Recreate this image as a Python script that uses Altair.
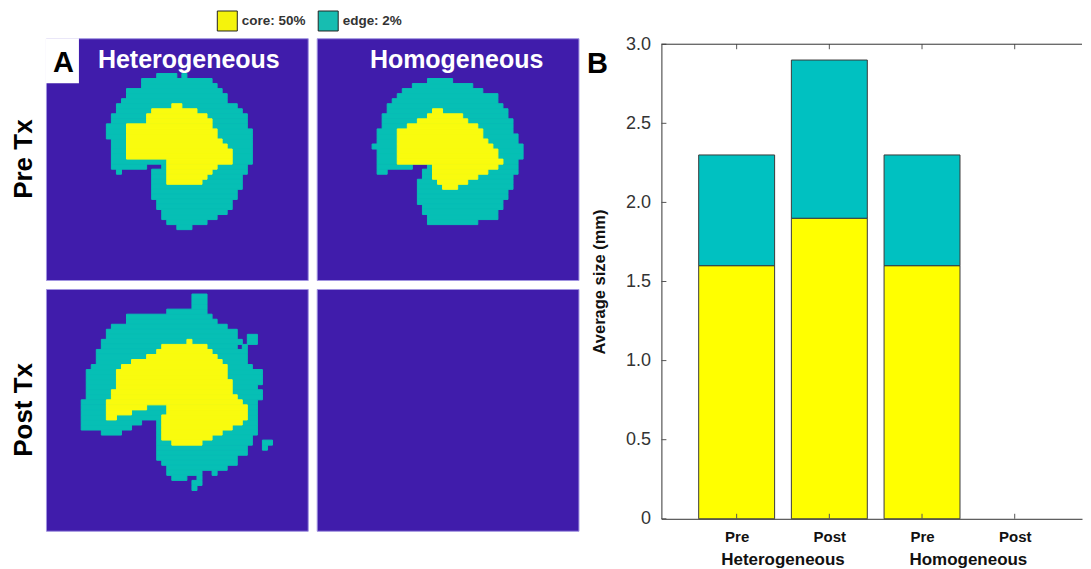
import json
import altair as alt
import pandas as pd

# ---------------- Panel B : stacked bars ----------------
groups = ["Heterogeneous", "Heterogeneous", "Homogeneous", "Homogeneous"]
conditions = ["Pre", "Post", "Pre", "Post"]
positions = [1, 2, 3, 4]
core_size = [1.6, 1.9, 1.6, 0.0]
edge_size = [0.7, 1.0, 0.7, 0.0]
y_ticks = [0, 0.5, 1.0, 1.5, 2.0, 2.5, 3.0]

legend_labels = ["core: 50%", "edge: 2%"]
regions = ["core", "edge"]

# ---------------- Panel A : segmented tumour maps ----------------
# runs of cells on a 52 x 48 grid: (row, first column, end column)
pre_het_edge = [
    (7, 22, 26), (7, 27, 28), (8, 19, 33), (9, 19, 34), (10, 16, 35), (11, 16, 36),
    (12, 15, 36), (13, 14, 38), (14, 14, 39), (15, 13, 40), (16, 13, 40), (17, 12, 40),
    (18, 12, 41), (19, 12, 41), (20, 13, 41), (21, 13, 41), (22, 13, 41), (23, 13, 41),
    (24, 13, 41), (25, 13, 20), (25, 23, 40), (26, 14, 15), (26, 21, 40), (27, 21, 39),
    (28, 21, 39), (29, 21, 39), (30, 21, 38), (31, 21, 38), (32, 22, 37), (33, 22, 37),
    (34, 23, 36), (35, 23, 34), (36, 24, 32), (37, 26, 29),
]
pre_het_core = [
    (13, 25, 27), (14, 21, 30), (15, 20, 32), (16, 20, 33), (17, 16, 33), (18, 16, 34),
    (19, 16, 34), (20, 16, 35), (21, 16, 36), (22, 16, 37), (23, 16, 37), (24, 24, 37),
    (25, 24, 34), (26, 24, 33), (27, 24, 32), (28, 24, 31),
]
pre_hom_edge = [
    (8, 22, 27), (9, 19, 31), (10, 17, 33), (11, 16, 36), (12, 15, 36), (13, 14, 37),
    (14, 14, 38), (15, 13, 38), (16, 13, 39), (17, 13, 39), (18, 12, 39), (19, 12, 40),
    (20, 12, 40), (21, 11, 41), (22, 12, 41), (23, 12, 41), (24, 12, 40), (25, 12, 19),
    (25, 22, 40), (26, 12, 14), (26, 21, 40), (27, 21, 39), (28, 20, 39), (29, 20, 39),
    (30, 20, 38), (31, 20, 38), (32, 20, 37), (33, 21, 37), (34, 21, 36), (35, 22, 36),
    (36, 22, 32),
]
pre_hom_core = [
    (14, 23, 25), (15, 22, 29), (16, 20, 30), (17, 18, 32), (18, 16, 33), (19, 16, 33),
    (20, 16, 34), (21, 16, 35), (22, 16, 36), (23, 16, 36), (24, 16, 37), (25, 23, 36),
    (26, 23, 34), (27, 23, 32), (28, 24, 30), (29, 25, 28),
]
post_het_edge = [
    (1, 29, 32), (2, 29, 32), (3, 29, 32), (4, 24, 32), (5, 16, 33), (6, 16, 34),
    (7, 13, 36), (8, 12, 38), (9, 12, 38), (9, 40, 42), (10, 11, 39), (10, 40, 42),
    (11, 11, 38), (11, 39, 40), (12, 10, 40), (13, 10, 40), (14, 10, 40), (15, 9, 41),
    (16, 8, 43), (17, 8, 43), (18, 8, 43), (19, 8, 42), (20, 8, 43), (21, 8, 43),
    (22, 7, 42), (23, 7, 42), (24, 7, 42), (25, 7, 42), (26, 7, 19), (26, 22, 42),
    (27, 7, 17), (27, 22, 42), (28, 11, 15), (28, 22, 42), (29, 22, 41), (30, 22, 41),
    (30, 43, 45), (31, 22, 40), (31, 43, 44), (32, 22, 40), (33, 22, 38), (34, 23, 38),
    (35, 24, 36), (36, 24, 31), (36, 33, 34), (37, 25, 28), (37, 30, 31), (38, 29, 31),
    (39, 29, 30),
]
post_het_core = [
    (10, 28, 29), (11, 23, 32), (12, 22, 33), (13, 20, 34), (14, 17, 35), (15, 15, 36),
    (16, 14, 36), (17, 14, 36), (18, 14, 37), (19, 14, 37), (20, 13, 37), (21, 13, 38),
    (22, 12, 39), (23, 12, 20), (23, 24, 40), (24, 12, 17), (24, 24, 40), (25, 12, 14),
    (25, 23, 40), (26, 23, 39), (27, 23, 37), (28, 23, 35), (29, 23, 33), (30, 25, 31),
]
post_hom_edge = []
post_hom_core = []

# ---------------- styling ----------------
FONT = "Liberation Sans"
PURPLE = "#401CAB"
MAP_COLORS = ["#F9FB0E", "#06BFB5"]
BAR_COLORS = ["#FFFF00", "#00C1C1"]
LEGEND_COLORS = ["#F5F30C", "#17BDB1"]
PW, PH = 262, 242
W, H = 421, 475


def runs_df(edge, core):
    recs = []
    for region, runs in (("edge", edge), ("core", core)):
        for r, a, b in runs:
            recs.append({"row": r, "row_end": r + 1, "c0": a, "c1": b, "region": region})
    return pd.DataFrame(recs, columns=["row", "row_end", "c0", "c1", "region"])


map_scale = alt.Scale(domain=regions, range=MAP_COLORS)


def panel(edge, core, title=None, dx=0, letter=False):
    cells = alt.Chart(runs_df(edge, core)).mark_rect(strokeWidth=1).encode(
        x=alt.X("c0:Q", scale=alt.Scale(domain=[0, 52], nice=False, zero=False), axis=None),
        x2="c1:Q",
        y=alt.Y("row:Q", scale=alt.Scale(domain=[0, 48], nice=False, zero=False, reverse=True), axis=None),
        y2="row_end:Q",
        color=alt.Color("region:N", scale=map_scale, legend=None),
        stroke=alt.Stroke("region:N", scale=map_scale, legend=None),
    )
    layers = [cells]
    if letter:
        one = pd.DataFrame({"t": ["A"]})
        box = alt.Chart(one).mark_rect(color="white").encode(
            x=alt.value(0), x2=alt.value(33), y=alt.value(0), y2=alt.value(45))
        txt = alt.Chart(one).mark_text(fontSize=29, fontWeight="bold", color="black",
                                       baseline="middle", font=FONT).encode(
            text="t:N", x=alt.value(17.5), y=alt.value(25))
        layers += [box, txt]
    props = dict(width=PW, height=PH,
                 view=alt.ViewBackground(fill=PURPLE, stroke="#A093E0", strokeWidth=1))
    if title:
        props["title"] = alt.TitleParams(title, anchor="middle", offset=-35, dx=dx,
                                         color="white", fontSize=25, fontWeight="bold", font=FONT)
    return alt.layer(*layers).properties(**props)


p11 = panel(pre_het_edge, pre_het_core, "Heterogeneous", 12, letter=True)
p12 = panel(pre_hom_edge, pre_hom_core, "Homogeneous", 9)
p21 = panel(post_het_edge, post_het_core)
p22 = panel(post_hom_edge, post_hom_core)

row_title = dict(orient="left", anchor="middle", fontSize=26, fontWeight="bold",
                 color="black", offset=8, font=FONT)
row1 = alt.hconcat(p11, p12, spacing=7, title=alt.TitleParams("Pre Tx", **row_title))
row2 = alt.hconcat(p21, p22, spacing=7, title=alt.TitleParams("Post Tx", **row_title))
panel_a = alt.vconcat(row1, row2, spacing=7)

# ---------------- Panel B chart ----------------
recs = []
for g, c, p, cs, es in zip(groups, conditions, positions, core_size, edge_size):
    recs.append({"group": g, "cond": c, "pos": p, "region": "core", "value": cs, "k": 0})
    recs.append({"group": g, "cond": c, "pos": p, "region": "edge", "value": es, "k": 1})
bdf = pd.DataFrame(recs)

xscale = alt.Scale(domain=[0.242, 4.672], nice=False, zero=False)
yscale = alt.Scale(domain=[0, 3], nice=False, zero=True)
x_label_expr = json.dumps([""] + conditions) + "[datum.value]"

bars = alt.Chart(bdf).transform_filter("datum.value > 0").mark_bar(
    size=76, stroke="#3a3a3a", strokeWidth=1).encode(
    x=alt.X("pos:Q", scale=xscale, axis=alt.Axis(
        values=positions, labelExpr=x_label_expr, title=None, grid=False, ticks=False,
        tickSize=0, domainColor="#333333", labelFontSize=15, labelFontWeight="bold",
        labelColor="#111111", labelPadding=11, labelFont=FONT)),
    y=alt.Y("value:Q", stack="zero", scale=yscale, axis=alt.Axis(
        values=y_ticks, labelExpr="datum.value == 0 ? '0' : format(datum.value, '.1f')",
        title="Average size (mm)", grid=False, ticks=False, tickSize=0,
        domainColor="#333333", labelFontSize=18, labelColor="#333333", labelPadding=11,
        labelFont=FONT, titleFont=FONT, titleFontSize=16.5, titleFontWeight="bold",
        titleColor="#111111", titlePadding=18)),
    color=alt.Color("region:N", scale=alt.Scale(domain=regions, range=BAR_COLORS), legend=None),
    order=alt.Order("k:Q"),
)

ytick_df = pd.DataFrame({"value": y_ticks})
xtick_df = pd.DataFrame({"pos": positions})
yticks = alt.Chart(ytick_df).mark_rule(color="#555555").encode(
    y=alt.Y("value:Q", scale=yscale), x=alt.value(0), x2=alt.value(5))
xticks_bottom = alt.Chart(xtick_df).mark_rule(color="#555555").encode(
    x=alt.X("pos:Q", scale=xscale), y=alt.value(H), y2=alt.value(H - 5))
xticks_top = alt.Chart(xtick_df).mark_rule(color="#555555").encode(
    x=alt.X("pos:Q", scale=xscale), y=alt.value(0), y2=alt.value(5))
top_line = alt.Chart(xtick_df.head(1)).mark_rule(color="#333333").encode(
    x=alt.value(0), x2=alt.value(W), y=alt.value(0))
group_labels = alt.Chart(bdf).transform_aggregate(
    pos="mean(pos)", groupby=["group"]).mark_text(
    fontSize=17, fontWeight="bold", baseline="top", color="#111111", font=FONT).encode(
    x=alt.X("pos:Q", scale=xscale), y=alt.value(H + 33), text="group:N")
letter_b = alt.Chart(pd.DataFrame({"t": ["B"]})).mark_text(
    fontSize=29, fontWeight="bold", color="black", baseline="middle", font=FONT).encode(
    text="t:N", x=alt.value(-64), y=alt.value(20))

panel_b = alt.layer(bars, yticks, xticks_bottom, xticks_top, top_line, group_labels,
                    letter_b).properties(width=W, height=H)

spacer = alt.Chart(xtick_df.head(1)).mark_rule(opacity=0).encode(
    x=alt.value(0), y=alt.value(0)).properties(width=1, height=1)
b_col = alt.vconcat(spacer, panel_b, spacing=5, bounds="flush")

# ---------------- legend row ----------------
legend_chart = alt.Chart(pd.DataFrame({"label": legend_labels})).mark_rect().encode(
    x=alt.value(0), x2=alt.value(0), y=alt.value(0), y2=alt.value(0),
    color=alt.Color("label:N", scale=alt.Scale(domain=legend_labels, range=LEGEND_COLORS),
                    legend=alt.Legend(title=None, orient="none", legendX=171, legendY=0,
                                      direction="horizontal", symbolType="square",
                                      symbolSize=400, symbolStrokeColor="#222222",
                                      symbolStrokeWidth=1, symbolOpacity=1,
                                      labelFontSize=13.5, labelFontWeight="bold",
                                      labelColor="#333333", labelFont=FONT,
                                      columnPadding=10, labelOffset=4, padding=0)),
).properties(width=560, height=20)

body = alt.hconcat(panel_a, b_col, spacing=616, bounds="flush").resolve_scale(
    color="independent", stroke="independent")
chart = alt.vconcat(legend_chart, body, spacing=8, bounds="flush").resolve_scale(
    color="independent", stroke="independent").properties(
    padding={"left": 3, "top": 2, "right": 0, "bottom": 0}
).configure(font=FONT).configure_view(strokeWidth=0)

chart.save("out.html", embed_options={"renderer": "svg", "actions": False})
